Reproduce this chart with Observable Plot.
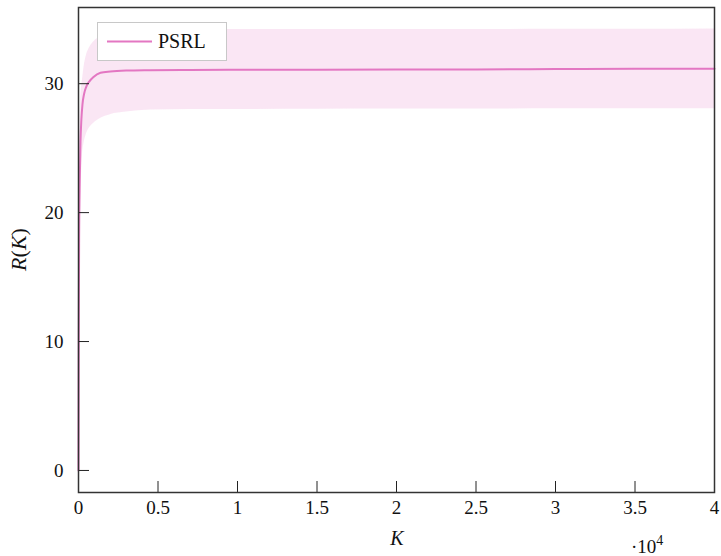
<!DOCTYPE html>
<html>
<head>
<meta charset="utf-8">
<script src="https://cdn.jsdelivr.net/npm/d3@7"></script>
<script src="https://cdn.jsdelivr.net/npm/@observablehq/plot@0.6"></script>
<style>
  html, body { margin: 0; padding: 0; background: #fff; }
  #wrap { position: relative; width: 721px; height: 556px; font-family: "Liberation Serif", serif; }
  #legend { position: absolute; left: 97px; top: 22px; width: 128px; height: 37px; border: 1px solid #c8c8c8; background: #fff; }
  #legend svg { position: absolute; left: 0; top: 0; }
  #legend span { position: absolute; left: 60px; top: 6px; font-size: 20px; line-height: 24px; color: #111; }
</style>
</head>
<body>
<div id="wrap">
  <div id="chart"></div>
  <div id="legend"><svg width="60" height="37"><line x1="9" x2="54" y1="18.5" y2="18.5" stroke="#e377c2" stroke-width="2"/></svg><span>PSRL</span></div>
</div>
<script>
// Number of episodes K and the running average return R(K) with its spread
const K      = [0, 15, 40, 80, 126, 180, 250, 350, 500, 700, 925, 1380, 2000, 3000, 4500, 7000, 10000, 15000, 20000, 25000, 30000, 35000, 40000];
const meanR  = [0, 10, 18, 22.5, 25.5, 27.2, 28.4, 29.2, 29.8, 30.2, 30.5, 30.85, 30.95, 31.02, 31.05, 31.07, 31.08, 31.09, 31.1, 31.11, 31.13, 31.15, 31.16];
const upperR = [0, 14, 22, 26.5, 28.5, 29.6, 30.3, 31.3, 32.2, 32.8, 33.2, 33.65, 33.95, 34.15, 34.2, 34.2, 34.2, 34.2, 34.2, 34.2, 34.22, 34.23, 34.25];
const lowerR = [0, 3, 9, 15, 19.5, 22.5, 24.5, 25.4, 26.1, 26.6, 26.9, 27.3, 27.6, 27.8, 27.95, 28.0, 28.0, 28.02, 28.03, 28.04, 28.05, 28.05, 28.05];

const xTicks = [0, 5000, 10000, 15000, 20000, 25000, 30000, 35000, 40000];
const yTicks = [0, 10, 20, 30];

const rows = K.map((k, i) => ({k, r: meanR[i], hi: upperR[i], lo: lowerR[i]}));
const pink = "#e377c2";
const serif = '"Liberation Serif", serif';

const chart = Plot.plot({
  width: 721,
  height: 556,
  marginTop: 7,
  marginRight: 7,
  marginBottom: 64,
  marginLeft: 78,
  style: {fontFamily: serif, fontSize: "19px", color: "#111", background: "#fff"},
  x: {domain: [0, 40000], label: null},
  y: {domain: [-1.71, 35.91], label: null},
  marks: [
    Plot.areaY(rows, {x: "k", y1: "lo", y2: "hi", fill: pink, fillOpacity: 0.18, curve: "monotone-x"}),
    Plot.lineY(rows, {x: "k", y: "r", stroke: pink, strokeWidth: 2, curve: "monotone-x"}),
    // inward ticks
    Plot.axisX({ticks: xTicks, tickSize: -11, fill: "none", stroke: "#222"}),
    Plot.axisY({ticks: yTicks, tickSize: -11, fill: "none", stroke: "#222"}),
    // tick labels
    Plot.axisX({ticks: xTicks, tickSize: 0, tickPadding: 8, tickFormat: d => String(d / 10000), label: null, fontFamily: serif, fontSize: 19}),
    Plot.axisY({ticks: yTicks, tickSize: 0, tickPadding: 15, label: null, fontFamily: serif, fontSize: 19}),
    Plot.frame({stroke: "#333", strokeWidth: 1.5})
  ]
});

document.getElementById("chart").append(chart);

// Axis titles and the x scale factor
const svg = d3.select(chart);
svg.append("text")
  .attr("x", 397).attr("y", 545)
  .attr("text-anchor", "middle")
  .attr("font-family", serif)
  .attr("font-size", 20)
  .attr("font-style", "italic")
  .attr("fill", "#111")
  .text("K");

const yl = svg.append("text")
  .attr("transform", "translate(26,249.5) rotate(-90)")
  .attr("text-anchor", "middle")
  .attr("font-family", serif)
  .attr("font-size", 22)
  .attr("fill", "#111");
yl.append("tspan").attr("font-style", "italic").text("R");
yl.append("tspan").text("(");
yl.append("tspan").attr("font-style", "italic").text("K");
yl.append("tspan").text(")");

const sf = svg.append("text")
  .attr("x", 631).attr("y", 553)
  .attr("text-anchor", "start")
  .attr("font-family", serif)
  .attr("font-size", 19)
  .attr("fill", "#111");
sf.append("tspan").text("·10");
sf.append("tspan").attr("dy", -8).attr("font-size", 14).text("4");
</script>
</body>
</html>
